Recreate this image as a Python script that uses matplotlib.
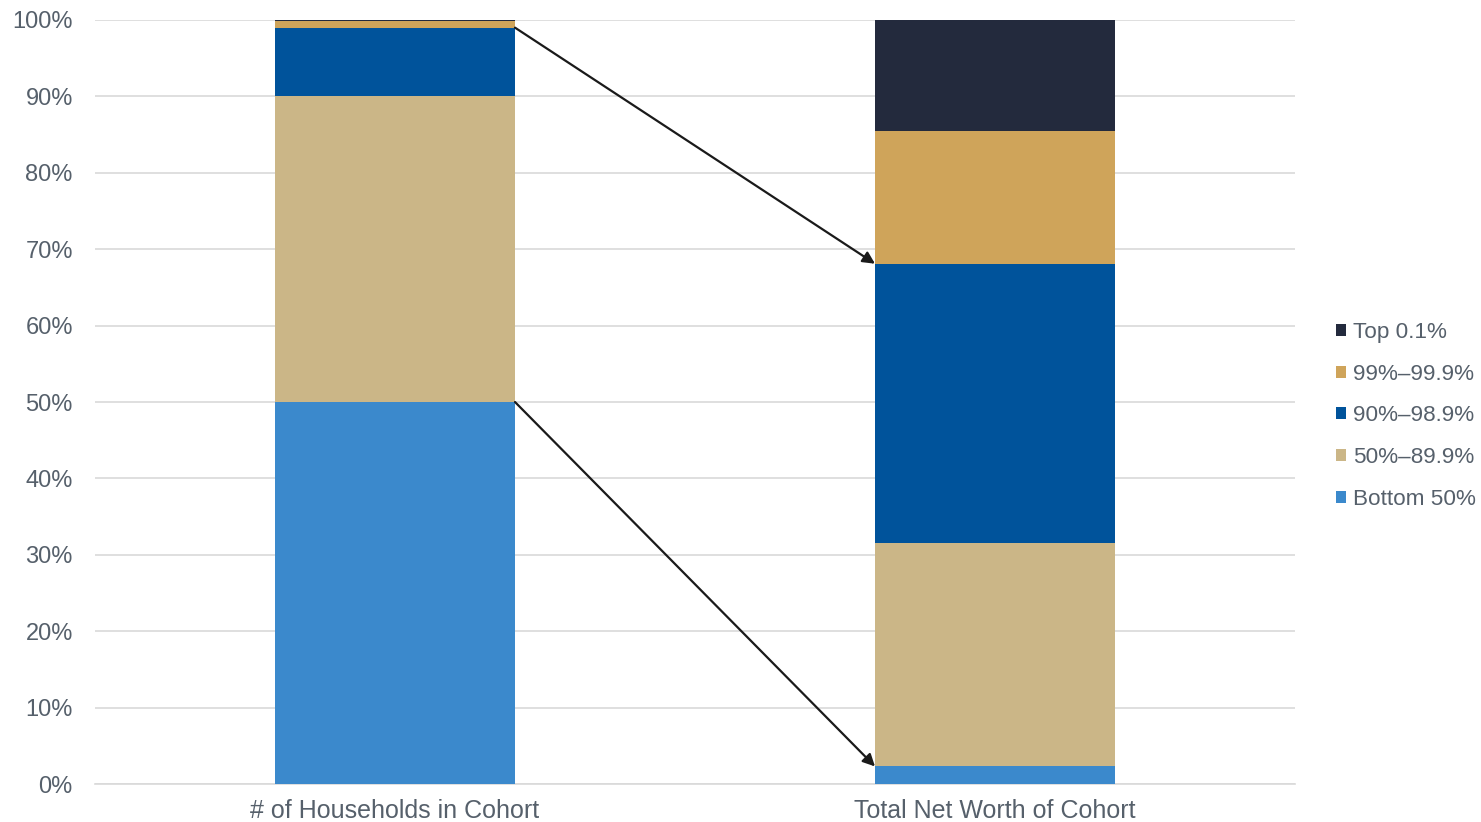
import numpy as np
import matplotlib.pyplot as plt
from matplotlib.ticker import PercentFormatter

plt.rcParams['font.family'] = ['Liberation Sans', 'DejaVu Sans']

categories = ['# of Households in Cohort', 'Total Net Worth of Cohort']
cohorts = ['Bottom 50%', '50%\u201389.9%', '90%\u201398.9%', '99%\u201399.9%', 'Top 0.1%']
bottom_50 = [50.0, 2.3]
mid_50_89 = [40.0, 29.2]
upper_90_98 = [9.0, 36.6]
top_99 = [0.9, 17.4]
top_01 = [0.1, 14.5]
colors = ['#3b89cc', '#cbb687', '#00539b', '#cfa45a', '#232a3d']

series = [bottom_50, mid_50_89, upper_90_98, top_99, top_01]
text_col = '#56606b'

fig = plt.figure(figsize=(14.81, 8.22), dpi=100)
ax = fig.add_axes([95 / 1481, 38 / 822, 1200 / 1481, 764 / 822])

x = np.arange(len(categories))
width = 0.4
base = np.zeros(len(categories))
for vals, name, c in zip(series, cohorts, colors):
    ax.bar(x, vals, width, bottom=base, color=c, label=name, zorder=3)
    base += np.array(vals)

ax.set_xlim(-0.5, 1.5)
ax.set_ylim(0, 100)
ax.set_yticks(np.arange(0, 101, 10))
ax.yaxis.set_major_formatter(PercentFormatter(decimals=0))
ax.set_xticks(x)
ax.set_xticklabels(categories, fontsize=18)
ax.grid(axis='y', color='#d9d9d9', linewidth=1.2, zorder=0)
for s in ['top', 'right', 'left']:
    ax.spines[s].set_visible(False)
ax.spines['bottom'].set_color('#d9d9d9')
ax.spines['bottom'].set_linewidth(1.2)
ax.tick_params(axis='both', length=0, labelcolor=text_col)
ax.tick_params(axis='y', pad=16, labelsize=17)
ax.tick_params(axis='x', pad=11)

# arrows linking left bar segments to right bar segments
left_edge = x[0] + width / 2
right_edge = x[1] - width / 2
cum_left = np.cumsum([s[0] for s in series])
cum_right = np.cumsum([s[1] for s in series])
for i in [2, 0]:
    ax.annotate('', xy=(right_edge, cum_right[i]), xytext=(left_edge, cum_left[i]),
                arrowprops=dict(arrowstyle='-|>', color='#1a1a1a', lw=1.6,
                                mutation_scale=18, shrinkA=0, shrinkB=0),
                zorder=5)

handles, labels = ax.get_legend_handles_labels()
leg = fig.legend(handles[::-1], labels[::-1], loc='center left',
                 bbox_to_anchor=(1325 / 1481, 0.494), frameon=False,
                 fontsize=16.2, handlelength=0.45, handleheight=0.45,
                 handletextpad=0.3, labelspacing=0.92, borderpad=0)
for t in leg.get_texts():
    t.set_color(text_col)

fig.savefig('out.png', dpi=100)
